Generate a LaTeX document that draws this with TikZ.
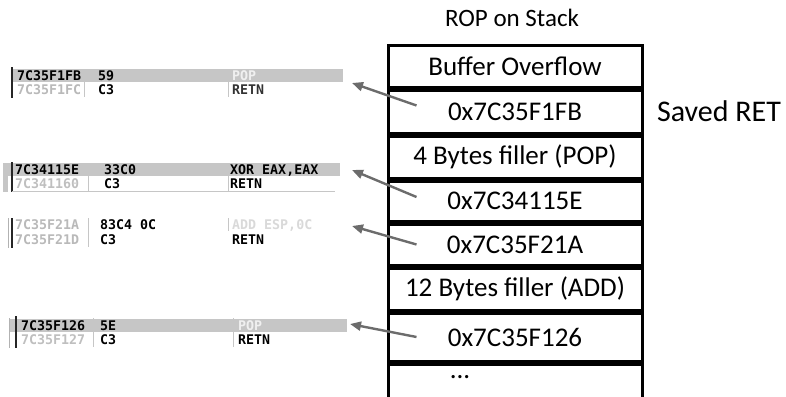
\documentclass[tikz,border=0pt]{standalone}
\usepackage{fontspec}
\usepackage{tikz}
\usetikzlibrary{arrows.meta,calc,positioning}
\newfontfamily\calfont{Carlito}
\newfontfamily\dbgfont{DejaVu Sans Mono}

\begin{document}
\begin{tikzpicture}[
    x=1pt, y=-1pt,
    font=\calfont\fontsize{27}{32}\selectfont,
    cell/.style={draw=black, line width=3pt, minimum width=254pt, inner sep=0pt},
    band/.style={fill=gray!45, inner sep=0pt, minimum height=13pt},
    nofill/.style={inner sep=0pt, minimum height=13pt},
    dbg/.style={anchor=west, inner sep=0pt, font=\dbgfont\bfseries\fontsize{13.3}{15}\selectfont},
    sep/.style={draw=gray!45, line width=0.8pt},
    bar/.style={draw=black!85, line width=2pt},
    ptr/.style={-{Triangle[length=11pt,width=9pt]}, draw=gray!85!black, line width=2.4pt},
  ]
\useasboundingbox (0,0) rectangle (786,396);

% ============================ stack ====================================
\node[font=\calfont\fontsize{25}{30}\selectfont] (title) at (512,18) {ROP on Stack};

\node[cell, minimum height=41pt] (c1) at (515,66.5) {Buffer Overflow};
\node[cell, minimum height=43pt, below=0pt of c1] (c2) {0x7C35F1FB};
\node[cell, minimum height=42pt, below=0pt of c2] (c3) {4 Bytes filler (POP)};
\node[cell, minimum height=40pt, below=0pt of c3] (c4) {0x7C34115E};
\node[cell, minimum height=41pt, below=0pt of c4] (c5) {0x7C35F21A};
\node[cell, minimum height=42pt, below=0pt of c5] (c6) {12 Bytes filler (ADD)};
\node[cell, minimum height=48pt, below=0pt of c6] (c7) {0x7C35F126};
\node[cell, minimum height=50pt, below=0pt of c7] (c8) {};
\node[inner sep=0pt] (dots) at ([xshift=-55pt,yshift=12pt]c8.center) {...};

\node[anchor=west, right=10pt of c2, font=\calfont\fontsize{30}{36}\selectfont] (ret) {Saved RET};

% ============================ gadgets ==================================
% ---- pop / retn -------------------------------------------------------
\node[band, minimum width=330pt] (gad1) at (178,75.5) {};
\draw[bar] (12,67) -- (12,98);
\draw[sep] (84,69) -- (84,97);
\draw[sep] (228,69) -- (228,97);
\node[dbg] at (17,76) {7C35F1FB};
\node[dbg] at (98,76) {59};
\node[dbg, gray!12] at (232,76) {POP};
\node[dbg, gray!55] at (17,90) {7C35F1FC};
\node[dbg] at (98,90) {C3};
\node[dbg, black!80] at (232,90) {RETN};

% ---- xor / retn -------------------------------------------------------
\node[band, minimum width=337pt] (gad2) at (171.5,169.5) {};
\draw[draw=gray!45, line width=5pt] (5.5,163) -- (5.5,192);
\draw[bar] (12,162) -- (12,192);
\draw[sep] (88,163) -- (88,191);
\draw[sep] (228,163) -- (228,191);
\draw[draw=gray!45, line width=0.8pt] (12,191.5) -- (335,191.5);
\node[dbg] at (15,170) {7C34115E};
\node[dbg] at (104,170) {33C0};
\node[dbg] at (230,170) {XOR EAX,EAX};
\node[dbg, gray!50] at (15,184) {7C341160};
\node[dbg] at (104,184) {C3};
\node[dbg] at (230,184) {RETN};

% ---- add / retn -------------------------------------------------------
\node[nofill, minimum width=330pt] (gad3) at (178,225) {};
\draw[draw=gray!60, line width=0.8pt] (8,218) -- (8,248);
\draw[bar] (12,218) -- (12,248);
\draw[sep] (88,218) -- (88,247);
\draw[sep] (228,218) -- (228,231);
\node[dbg, gray!55] at (15,225) {7C35F21A};
\node[dbg] at (100,225) {83C4 0C};
\node[dbg, gray!30] at (232,225) {ADD ESP,0C};
\node[dbg, gray!55] at (15,240) {7C35F21D};
\node[dbg] at (100,240) {C3};
\node[dbg] at (232,240) {RETN};

% ---- pop / retn -------------------------------------------------------
\node[band, minimum width=337pt] (gad4) at (178.5,325.5) {};
\draw[draw=gray!60, line width=0.8pt] (9,318) -- (9,348);
\draw[bar] (16,316) -- (16,348);
\draw[sep] (93,318) -- (93,347);
\draw[sep] (233,318) -- (233,347);
\node[dbg] at (21,326) {7C35F126};
\node[dbg] at (100,326) {5E};
\node[dbg, gray!12] at (238,326) {POP};
\node[dbg, gray!50] at (21,340) {7C35F127};
\node[dbg] at (100,340) {C3};
\node[dbg] at (238,340) {RETN};

% ---- return pointers --------------------------------------------------
\coordinate (tip1) at (352,83);
\coordinate (tip2) at (352,170);
\coordinate (tip3) at (352,226);
\coordinate (tip4) at (350,324);
\draw[ptr] ([xshift=30pt,yshift=6pt]c2.west) -- (tip1);
\draw[ptr] ([xshift=30pt,yshift=4pt]c4.west) -- (tip2);
\draw[ptr] ([xshift=30pt]c5.west) -- (tip3);
\draw[ptr] ([xshift=30pt]c7.west) -- (tip4);

\end{tikzpicture}
\end{document}
